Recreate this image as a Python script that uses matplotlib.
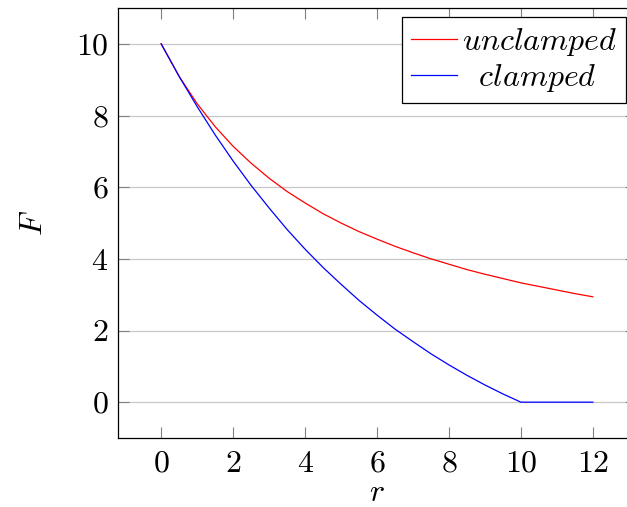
import matplotlib
matplotlib.use("Agg")
import matplotlib.pyplot as plt

r = [0, 0.5, 1, 1.5, 2, 2.5, 3, 3.5, 4, 4.5, 5, 5.5, 6, 6.5, 7, 7.5, 8, 8.5,
     9, 9.5, 10, 10.5, 11, 11.5, 12]
unclamped = [10, 9.09, 8.33, 7.69, 7.14, 6.67, 6.25, 5.88, 5.56, 5.26, 5.0,
             4.76, 4.55, 4.35, 4.17, 4.0, 3.85, 3.70, 3.57, 3.45, 3.33, 3.23,
             3.13, 3.03, 2.94]
clamped = [10, 9.09, 8.25, 7.46, 6.73, 6.05, 5.42, 4.82, 4.27, 3.76, 3.29,
           2.84, 2.43, 2.04, 1.69, 1.35, 1.04, 0.75, 0.48, 0.23, 0, 0, 0, 0, 0]
xticks = [0, 2, 4, 6, 8, 10, 12]
yticks = [0, 2, 4, 6, 8, 10]

plt.rcParams['font.family'] = 'serif'
plt.rcParams['font.serif'] = ['cmr10']
plt.rcParams['mathtext.fontset'] = 'cm'
plt.rcParams['axes.formatter.use_mathtext'] = True

FS = 23
W, H = 627, 507
fig = plt.figure(figsize=(W / 100, H / 100), dpi=100)
ax = fig.add_axes([118 / W, (H - 438) / H, 518 / W, 430 / H])

ax.plot(r, unclamped, color='red', lw=0.9, label=r'$unclamped$')
ax.plot(r, clamped, color='blue', lw=0.9, label=r'$\hspace{0.6}clamped$')

ax.set_xlim(-1.2, 13.2)
ax.set_ylim(-1, 11)
ax.set_xticks(xticks)
ax.set_yticks(yticks)
ax.grid(axis='y', color='#c8c8c8', lw=0.9)
ax.set_axisbelow(True)
ax.tick_params(direction='in', length=8, width=0.8, color='#808080',
               top=True, right=True, labelsize=FS)
ax.tick_params(axis='x', pad=9)
ax.tick_params(axis='y', pad=7)
for s in ax.spines.values():
    s.set_linewidth(0.9)

ax.set_xlabel(r'$r$', fontsize=FS, labelpad=1)
ax.set_ylabel(r'$F$', fontsize=FS, labelpad=20)

leg = ax.legend(loc='upper right', bbox_to_anchor=(0.981, 0.978),
                borderaxespad=0, fontsize=FS, fancybox=False, framealpha=1,
                edgecolor='black', handlelength=1.45, handletextpad=0.15,
                borderpad=0.28, labelspacing=0.12)
leg.get_frame().set_linewidth(0.9)

fig.savefig('out.png', dpi=100)
